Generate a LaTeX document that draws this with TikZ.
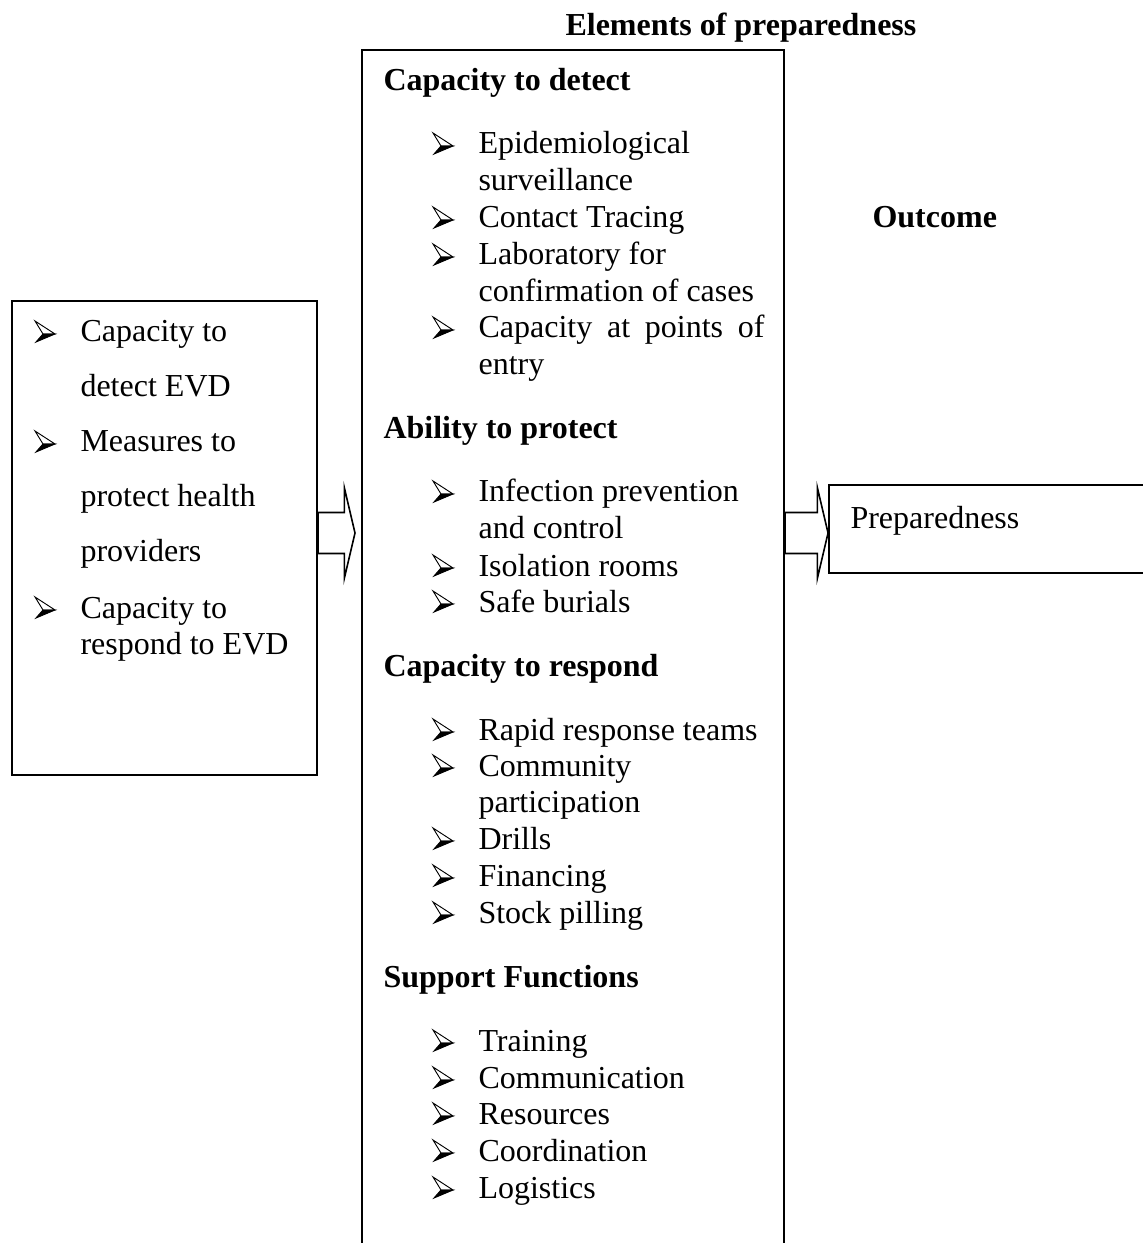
\documentclass[tikz,border=0pt]{standalone}
\usepackage{fontspec}
\setmainfont{Liberation Serif}
\usetikzlibrary{calc}
\tikzset{
  box/.style={draw,line width=0.7pt,inner sep=0pt},
  head/.style={anchor=base west,inner sep=0pt,font=\fontsize{12}{13.8}\selectfont\bfseries},
  txt/.style={anchor=base west,inner sep=0pt,font=\fontsize{12}{13.8}\selectfont},
  item/.style={txt,text width=107.25pt,align=flush left},
  litem/.style={anchor=base west,inner sep=0pt,text width=84pt,align=flush left,font=\fontsize{12}{20.6}\selectfont},
  blockarrow/.style={draw,fill=white,line width=0.6pt,line join=miter},
  % the arrowhead bullet, white top half and black bottom half
  arrowbullet/.pic={
    \filldraw[fill=white,line width=0.35pt,line join=miter] (0,-21) -- (20,-8) -- (8,-8) -- cycle;
    \filldraw[line width=0.35pt,line join=miter] (8,-8) -- (20,-8) -- (1,0) -- cycle;
  }
}
% block arrow from #1 to #2 (tip)
\newcommand{\blockarrow}[2]{%
  \draw[blockarrow] let \p1=(#1), \p2=(#2) in
    (\x1,\y1+7.7pt) -- (\x2-4pt,\y1+7.7pt) -- (\x2-4pt,\y1+17pt) -- (\x2,\y1)
    -- (\x2-4pt,\y1-17pt) -- (\x2-4pt,\y1-7.7pt) -- (\x1,\y1-7.7pt) -- cycle;}

\begin{document}
\begin{tikzpicture}[x=0.375pt,y=-0.375pt]
\clip (0,0) rectangle (1143,1243);

% boxes
\node[box,minimum width=114.4pt,minimum height=177.8pt] (lbox) at (164.5,538) {};
\node[box,minimum width=158.3pt,minimum height=472.5pt] (mid) at (573,680) {};
\node[box,minimum width=127.9pt,minimum height=33pt] (rbox) at (999.5,529) {};

% titles
\node[head] (elem) at (565,36) {Elements of preparedness};
\node[head] (outc) at (872,228) {Outcome};
\node[txt] (prep) at (850,528) {Preparedness};

% left box
\node[litem] (l1) at (80,342) {Capacity to\\detect EVD};
\node[litem] (l2) at (80,452) {Measures to\\protect health\\providers};
\node[litem,font=\fontsize{12}{13.6}\selectfont] (l3) at (80,618) {Capacity to\\respond to EVD};

% middle box
\node[head] (h1) at (383,91) {Capacity to detect};
\node[item] (d1) at (478,154) {Epidemiological\\surveillance};
\node[item] (d2) at (478,228) {Contact Tracing};
\node[item] (d3) at (478,265) {Laboratory for\\confirmation of cases};
\node[item] (d4) at (478,338) {Capacity\hfill at\hfill points\hfill of\\entry};

\node[head] (h2) at (383,439) {Ability to protect};
\node[item] (p1) at (478,502) {Infection prevention\\and control};
\node[item] (p2) at (478,576) {Isolation rooms};
\node[item] (p3) at (478,612) {Safe burials};

\node[head] (h3) at (383,676) {Capacity to respond};
\node[item] (r1) at (478,740) {Rapid response teams};
\node[item] (r2) at (478,776) {Community\\participation};
\node[item] (r3) at (478,849) {Drills};
\node[item] (r4) at (478,886) {Financing};
\node[item] (r5) at (478,923) {Stock pilling};

\node[head] (h4) at (383,987) {Support Functions};
\node[item] (s1) at (478,1051) {Training};
\node[item] (s2) at (478,1088) {Communication};
\node[item] (s3) at (478,1124) {Resources};
\node[item] (s4) at (478,1161) {Coordination};
\node[item] (s5) at (478,1198) {Logistics};

% bullets
\foreach \n in {l1,l2,l3,d1,d2,d3,d4,p1,p2,p3,r1,r2,r3,r4,r5,s1,s2,s3,s4,s5}
  \pic at ($(\n.base west)+(-45,0)$) {arrowbullet};

% arrows
\blockarrow{$(lbox.east)+(0,-5)$}{$(mid.west |- lbox.east)+(-6,-5)$}
\blockarrow{$(mid.east |- rbox.west)+(0,4)$}{$(rbox.west)+(0,4)$}
\end{tikzpicture}
\end{document}
